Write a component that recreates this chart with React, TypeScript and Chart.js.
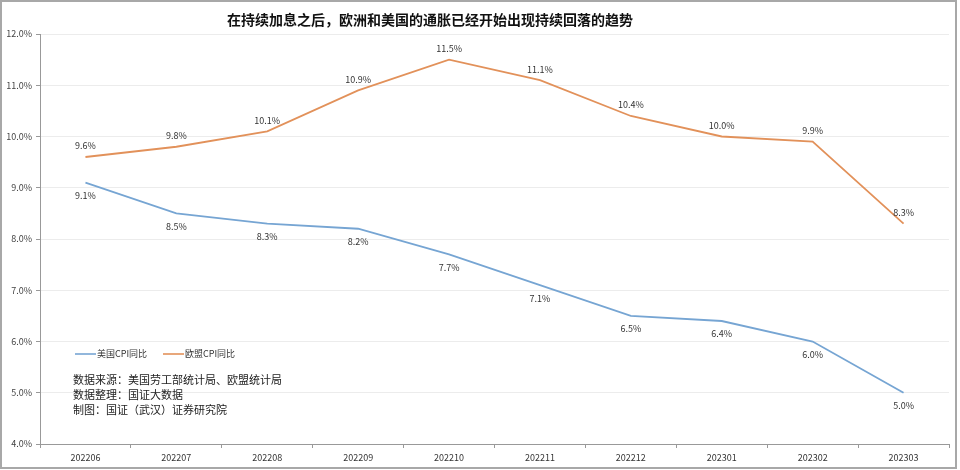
import React, { useEffect, useRef } from "react";
import { Chart, registerables } from "chart.js";

Chart.register(...registerables);

const categories = ["202206", "202207", "202208", "202209", "202210", "202211", "202212", "202301", "202302", "202303"];
const usCPI = [9.1, 8.5, 8.3, 8.2, 7.7, 7.1, 6.5, 6.4, 6.0, 5.0];
const euCPI = [9.6, 9.8, 10.1, 10.9, 11.5, 11.1, 10.4, 10.0, 9.9, 8.3];
const seriesNames = ["美国CPI同比", "欧盟CPI同比"];
const title = "在持续加息之后，欧洲和美国的通胀已经开始出现持续回落的趋势";
const notes = ["数据来源：美国劳工部统计局、欧盟统计局", "数据整理：国证大数据", "制图：国证（武汉）证券研究院"];

const FONT = '"Noto Sans CJK SC", "Noto Sans", sans-serif';
const BLUE = "#76a5d3";
const ORANGE = "#e2915a";

const decorPlugin = {
  id: "decor",
  afterDraw(chart: any) {
    const ctx = chart.ctx;
    ctx.save();
    // title
    ctx.font = `bold 14px ${FONT}`;
    ctx.fillStyle = "#111";
    ctx.textAlign = "center";
    ctx.textBaseline = "middle";
    ctx.fillText(title, 430, 20);

    // data labels
    ctx.font = `9px ${FONT}`;
    ctx.fillStyle = "#333";
    chart.data.datasets.forEach((ds: any, i: number) => {
      const meta = chart.getDatasetMeta(i);
      meta.data.forEach((pt: any, j: number) => {
        const v = ds.data[j];
        const y = i === 1 ? pt.y - 11 : pt.y + 13;
        ctx.fillText(v.toFixed(1) + "%", pt.x, y);
      });
    });

    // legend
    const ly = 354;
    let lx = 75;
    ctx.textAlign = "left";
    ctx.font = `9px ${FONT}`;
    chart.data.datasets.forEach((ds: any) => {
      ctx.strokeStyle = ds.borderColor;
      ctx.lineWidth = 1.6;
      ctx.beginPath();
      ctx.moveTo(lx, ly);
      ctx.lineTo(lx + 21, ly);
      ctx.stroke();
      ctx.fillStyle = "#333";
      ctx.fillText(ds.label, lx + 22, ly);
      lx += 88;
    });

    // notes
    ctx.font = `11px ${FONT}`;
    ctx.fillStyle = "#222";
    notes.forEach((t, k) => {
      ctx.fillText(t, 73, 380 + k * 15);
    });
    ctx.restore();
  },
};

export default function App() {
  const ref = useRef<HTMLCanvasElement>(null);
  useEffect(() => {
    if (!ref.current) return;
    const chart = new Chart(ref.current, {
      type: "line",
      data: {
        labels: categories,
        datasets: [
          { label: seriesNames[0], data: usCPI, borderColor: BLUE, backgroundColor: BLUE, borderWidth: 1.8, pointRadius: 0, tension: 0 },
          { label: seriesNames[1], data: euCPI, borderColor: ORANGE, backgroundColor: ORANGE, borderWidth: 1.8, pointRadius: 0, tension: 0 },
        ],
      },
      options: {
        animation: false,
        responsive: false,
        maintainAspectRatio: false,
        layout: { padding: { top: 34, right: 11, left: 0, bottom: 0 } },
        plugins: { legend: { display: false }, title: { display: false }, tooltip: { enabled: false } },
        scales: {
          x: {
            offset: true,
            grid: { offset: true, drawOnChartArea: false, color: "#999", tickLength: 4 },
            border: { color: "#999", width: 1 },
            ticks: { font: { family: FONT, size: 9 }, color: "#333", padding: 4, maxRotation: 0 },
            afterFit: (s: any) => { s.height = 26; },
          },
          y: {
            min: 4,
            max: 12,
            ticks: { stepSize: 1, font: { family: FONT, size: 9 }, color: "#444", padding: 4, callback: (v: any) => Number(v).toFixed(1) + "%" },
            grid: { color: "#ececec", tickLength: 4, tickColor: "#999" },
            border: { color: "#999", width: 1 },
            afterFit: (s: any) => { s.width = 40; },
          },
        },
      },
      plugins: [decorPlugin],
    });
    return () => chart.destroy();
  }, []);
  return (
    <div style={{ position: "absolute", left: 0, top: 0, width: 960, height: 470, background: "#fff" }}>
      <div style={{ position: "absolute", left: 0, top: 0, width: 957, height: 469, boxSizing: "border-box", border: "2px solid #a8a8a8", pointerEvents: "none", zIndex: 2 }} />
      <canvas ref={ref} width={960} height={470} style={{ position: "absolute", left: 0, top: 0 }} />
    </div>
  );
}
